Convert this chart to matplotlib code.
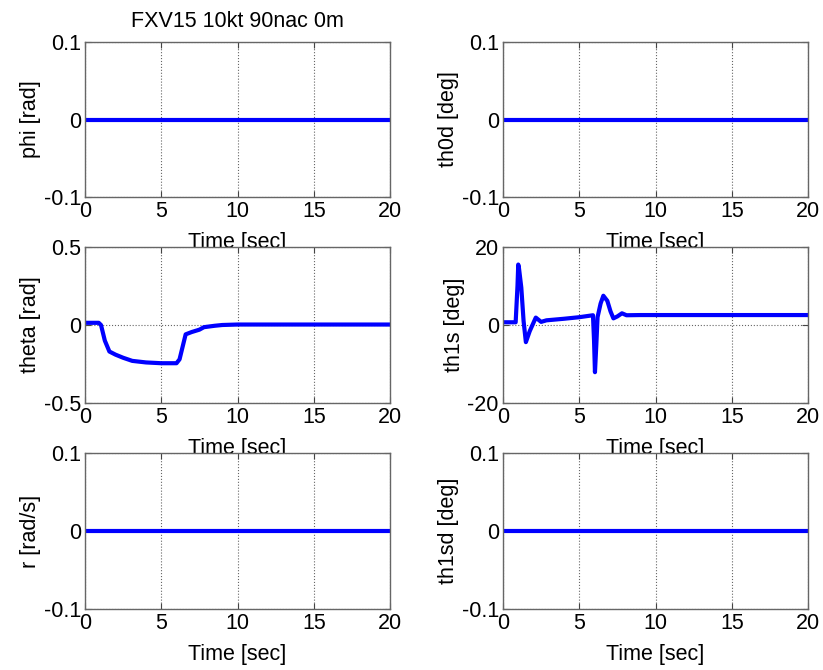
import matplotlib
matplotlib.use("Agg")
import matplotlib.pyplot as plt
import numpy as np

plt.rcParams["font.family"] = ["Liberation Sans", "DejaVu Sans"]

TITLE = "FXV15 10kt 90nac 0m"

# flat channels (essentially zero over the run)
flat_t = [0.0, 20.0]
flat_v = [0.0, 0.0]

# theta [rad]
theta_t = [0.0, 0.9, 1.05, 1.3, 1.6, 2.0, 2.5, 3.1, 4.0, 5.0, 6.0, 6.2,
           6.6, 7.0, 7.5, 7.8, 8.5, 9.0, 10.0, 20.0]
theta_v = [0.014, 0.014, 0.0, -0.1, -0.17, -0.19, -0.21, -0.23, -0.24,
           -0.245, -0.245, -0.22, -0.06, -0.045, -0.03, -0.014, -0.005,
           0.0, 0.003, 0.003]

# th1s [deg]
th1s_t = [0.0, 0.83, 0.95, 1.0, 1.05, 1.2, 1.35, 1.5, 1.75, 2.15, 2.5,
          2.85, 4.0, 5.0, 5.9, 5.97, 6.03, 6.12, 6.2, 6.4, 6.58, 6.84,
          7.05, 7.24, 7.5, 7.8, 8.1, 9.0, 20.0]
th1s_v = [0.7, 0.7, 10.0, 15.5, 14.5, 9.6, 1.0, -4.4, -1.6, 1.9, 0.8,
          1.2, 1.6, 2.0, 2.5, -4.0, -12.1, -5.0, 2.0, 5.5, 7.5, 6.2, 3.5,
          1.7, 2.2, 3.0, 2.5, 2.55, 2.55]

panels = [
    ("phi [rad]", flat_t, flat_v, (-0.1, 0.1), [-0.1, 0, 0.1], ["-0.1", "0", "0.1"]),
    ("th0d [deg]", flat_t, flat_v, (-0.1, 0.1), [-0.1, 0, 0.1], ["-0.1", "0", "0.1"]),
    ("theta [rad]", theta_t, theta_v, (-0.5, 0.5), [-0.5, 0, 0.5], ["-0.5", "0", "0.5"]),
    ("th1s [deg]", th1s_t, th1s_v, (-20, 20), [-20, 0, 20], ["-20", "0", "20"]),
    ("r [rad/s]", flat_t, flat_v, (-0.1, 0.1), [-0.1, 0, 0.1], ["-0.1", "0", "0.1"]),
    ("th1sd [deg]", flat_t, flat_v, (-0.1, 0.1), [-0.1, 0, 0.1], ["-0.1", "0", "0.1"]),
]

W, H = 823, 670
FS = 15.5
fig = plt.figure(figsize=(W / 100, H / 100), dpi=100)

cols = [(85, 390), (503, 808)]
rows = [(42, 197), (247, 403), (453, 609)]

for idx, (ylabel, t, v, ylim, yticks, yticklabels) in enumerate(panels):
    r, c = divmod(idx, 2)
    x0, x1 = cols[c]
    y0, y1 = rows[r]
    ax = fig.add_axes([x0 / W, 1 - y1 / H, (x1 - x0) / W, (y1 - y0) / H])
    ax.plot(t, v, color="#0000ff", lw=3.0, solid_joinstyle="round")
    ax.set_xlim(0, 20)
    ax.set_ylim(*ylim)
    ax.set_xticks([0, 5, 10, 15, 20])
    ax.set_xticklabels(["0", "5", "10", "15", "20"])
    ax.set_yticks(yticks)
    ax.set_yticklabels(yticklabels)
    ax.grid(True, linestyle=":", color="#666666", lw=0.8)
    ax.tick_params(direction="in", length=4, labelsize=FS, pad=3,
                   color="#444444", top=True, right=True)
    for sp in ax.spines.values():
        sp.set_color("#666666")
        sp.set_linewidth(1.0)
    ax.set_ylabel(ylabel, fontsize=FS, labelpad=2)
    ax.set_xlabel("Time [sec]", fontsize=FS, labelpad=7)
    if idx == 0:
        ax.set_title(TITLE, fontsize=FS, pad=11)

fig.savefig("out.png", dpi=100)
